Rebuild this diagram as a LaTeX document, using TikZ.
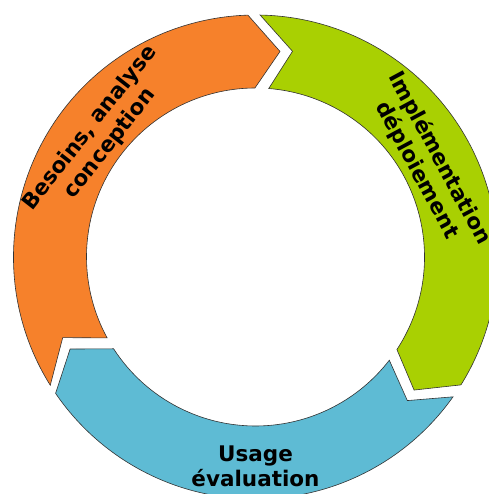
\documentclass[tikz,border=0pt]{standalone}
\usepackage{fontspec}
\setmainfont{DejaVu Sans}
\usetikzlibrary{calc}
\definecolor{corange}{HTML}{F6812B}
\definecolor{cgreen}{HTML}{A9D002}
\definecolor{cblue}{HTML}{5EBBD4}
\definecolor{cedge}{HTML}{333333}
\tikzset{
  seg/.style={draw=cedge, line width=0.6pt, line join=miter},
  lbl/.style={font=\fontsize{21.5}{25.5}\selectfont\bfseries, align=center, inner sep=0pt, text=black}
}
% #1 colour, #2 tail outer, #3 tail inner, #4 notch, #5 head outer, #6 head inner, #7 tip
\newcommand\cyclearrow[7]{%
  \path[seg, fill=#1] ($(C)+(#2:242)$) arc[start angle=#2, end angle=#5, radius=242pt]
    -- ($(C)+(#7:207)$) -- ($(C)+(#6:169)$)
    arc[start angle=#6, end angle=#3, radius=169pt]
    -- ($(C)+(#4:209)$) -- cycle;}
\begin{document}
\begin{tikzpicture}[x=1pt,y=1pt]
\useasboundingbox (0,0) rectangle (488,494);
\coordinate (C) at (255.5,237);
\cyclearrow{corange}{212}{208.6}{202.7}{91.8}{90.2}{83.2}
\cyclearrow{cgreen}{88.9}{85.5}{79.8}{-31.9}{-33.2}{-40}
\cyclearrow{cblue}{-35.3}{-37.65}{-43.4}{-145.7}{-147.1}{-153.6}
\node[lbl, rotate=52] (t1) at ($(C)+(142:197)$) {Besoins, analyse\\conception};
\node[lbl, rotate=-61.7] (t2) at ($(C)+(28.3:196)$) {Implémentation\\déploiement};
\node[lbl] (t3) at ($(C)+(270:209.5)$) {Usage\\évaluation};
\end{tikzpicture}
\end{document}
